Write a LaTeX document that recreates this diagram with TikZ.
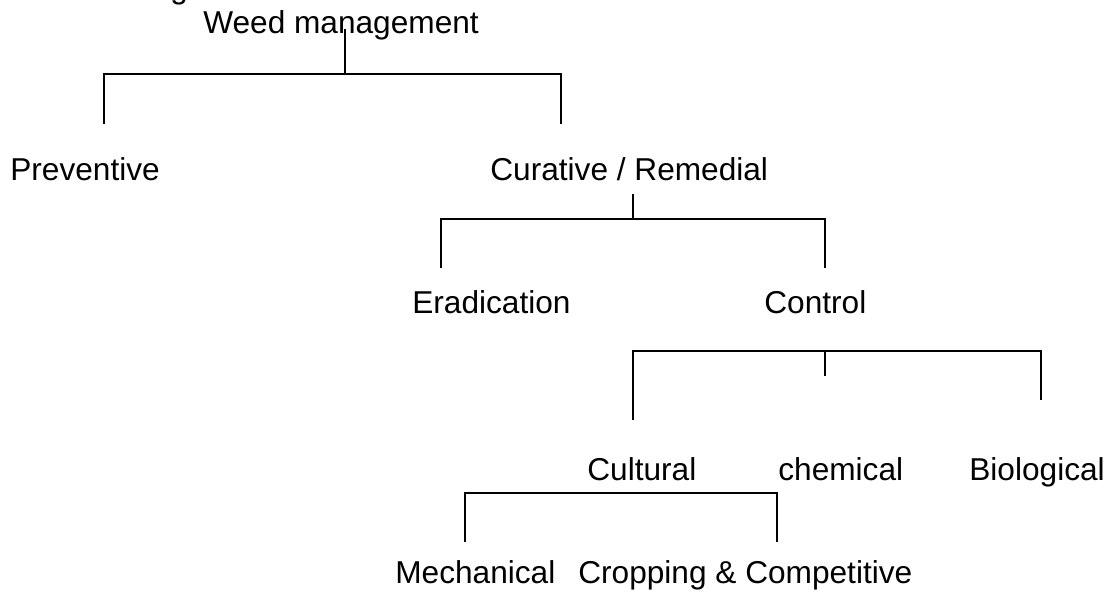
\documentclass[tikz,border=0pt]{standalone}
\usepackage{fontspec}
\setmainfont{Liberation Sans}
\usepackage{tikz}
\usetikzlibrary{calc}
\tikzstyle{term}=[anchor=base west,inner sep=0pt,font=\fontsize{18pt}{20pt}\selectfont]
\tikzstyle{branch} = [draw,line width=1.1pt,line cap=rect]

\begin{document}
\begin{tikzpicture}[x=0.02cm,y=-0.02cm]

    \useasboundingbox (0,0) rectangle (1112,595);
    \clip (0,0) rectangle (1112,595);

    % cut-off line above the title
    \node[term] (cut) at (170,-2) {g};

    \foreach \pos/\name/\txt in {{(203,33)/wm/Weed management}, {(10,180)/pr/Preventive},
        {(490,180)/cr/{Curative / Remedial}}, {(412,313)/er/Eradication}, {(764,313)/co/Control},
        {(587,480)/cu/Cultural}, {(778,480)/ch/chemical}, {(969,480)/bi/Biological},
        {(395,583)/me/Mechanical}, {(578,583)/cc/{Cropping \& Competitive}}}
        \node[term] (\name) at \pos {\txt};

    % weed management
    \coordinate (wmS) at (345,30);
    \coordinate (wmH) at (345,74);
    \coordinate (prT) at (104,123);
    \coordinate (crT) at (561,123);
    \draw[branch] (wmS) -- (wmH);
    \draw[branch] (prT) |- (wmH) -| (crT);

    % curative / remedial
    \coordinate (crS) at (633,195);
    \coordinate (crH) at (633,219);
    \coordinate (erT) at (441,267);
    \coordinate (coT) at (825,267);
    \draw[branch] (crS) -- (crH);
    \draw[branch] (erT) |- (crH) -| (coT);

    % control
    \coordinate (coH) at (825,351);
    \coordinate (chT) at (825,375);
    \coordinate (cuT) at (633,419);
    \coordinate (biT) at (1041,399);
    \draw[branch] (coH) -- (chT);
    \draw[branch] (cuT) |- (coH) -| (biT);

    % cultural
    \coordinate (cuH) at (621,493);
    \coordinate (meT) at (465,541);
    \coordinate (ccT) at (777,541);
    \draw[branch] (meT) |- (cuH) -| (ccT);

\end{tikzpicture}
\end{document}
